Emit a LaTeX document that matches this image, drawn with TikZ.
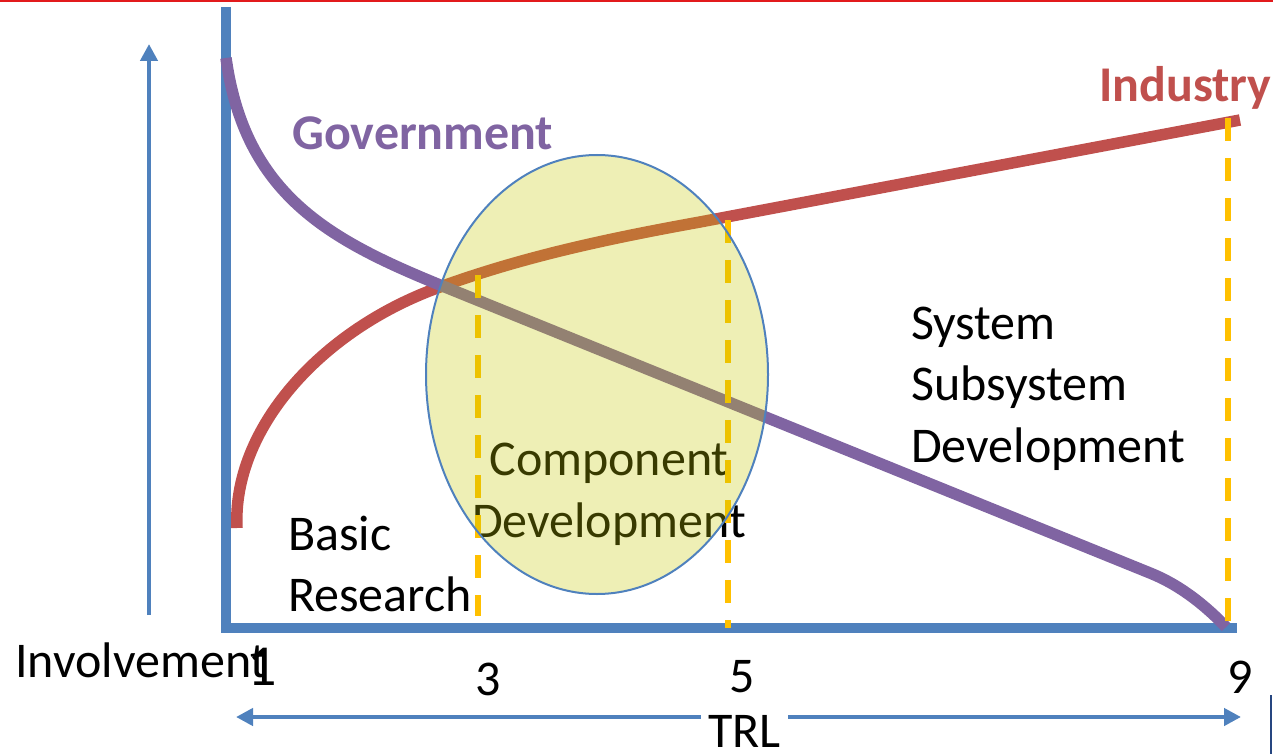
\documentclass[tikz,border=0pt]{standalone}
\usepackage{fontspec}
\setmainfont{Carlito}
\usetikzlibrary{arrows.meta}
\definecolor{axisblue}{RGB}{79,129,189}
\definecolor{govpurple}{RGB}{128,100,162}
\definecolor{indred}{RGB}{192,80,77}
\definecolor{trlyellow}{RGB}{255,192,0}
\definecolor{blobfill}{RGB}{196,200,0}
\definecolor{topred}{RGB}{226,26,28}
\definecolor{edgenavy}{RGB}{38,70,128}

\begin{document}
\begin{tikzpicture}[x=1pt,y=-1pt,
  lbl/.style={font=\fontsize{50}{60}\selectfont, inner sep=0pt, anchor=base west},
  num/.style={font=\fontsize{50}{60}\selectfont, inner sep=0pt, anchor=base},
  axisline/.style={draw=axisblue, line width=10pt, line join=miter},
  arr/.style={draw=axisblue, line width=4.5pt, -{Triangle[length=17pt,width=17pt]}},
  curve/.style={line width=11.5pt, line cap=butt},
  dashline/.style={draw=trlyellow, line width=6pt, dash pattern=on 23pt off 17pt},
]
\useasboundingbox (0,0) rectangle (1273,754);

% rule along the top edge
\fill[topred] (0,0) rectangle (1273,2.5);

% axes
\coordinate (ytop) at (226,7);
\coordinate (origin) at (226,628);
\coordinate (xend) at (1237,628);
\draw[axisline] (ytop) -- (origin) -- (xend);

% involvement arrow
\coordinate (invBot) at (149,615);
\coordinate (invTop) at (149,44);
\draw[arr] (invBot) -- (invTop);

% TRL double arrow
\node[font=\fontsize{50}{60}\selectfont, inner ysep=0pt, inner xsep=7.5pt, anchor=base] (trl) at (744.5,747) {TRL};
\coordinate (trlL) at (236,717);
\coordinate (trlR) at (1241,717);
\draw[arr] (trl.west |- trlL) -- (trlL);
\draw[arr] (trl.east |- trlR) -- (trlR);

% industry curve
\draw[curve, indred] (237,528) .. controls (232,430) and (320,330) .. (440,287)
  .. controls (520,258) and (600,240) .. (700,222) -- (1240,120);

% government curve
\draw[curve, govpurple] (226,58) .. controls (245,195) and (330,240) .. (440,285)
  -- (1150,573) .. controls (1175,583) and (1200,600) .. (1226,627);

% curve labels
\node[lbl, font=\fontsize{50}{60}\selectfont\bfseries, text=govpurple] (gov) at (292,150) {Government};
\node[lbl, font=\fontsize{50}{60}\selectfont\bfseries, text=indred] (ind) at (1099,102) {Industry};

% phase labels
\node[lbl] (basic) at (288,550) {Basic};
\node[lbl] (research) at (288,611) {Research};
\node[num] (comp) at (609,475) {Component};
\node[num] (compdev) at (609,537) {Development};
\node[lbl] (sys) at (911,339) {System};
\node[lbl] (subsys) at (911,400) {Subsystem};
\node[lbl] (sysdev) at (911,462) {Development};

% TRL markers
\draw[dashline] (478,275) -- (478,616);
\draw[dashline] (728,220) -- (728,628);
\draw[dashline] (1228,118) -- (1228,624);

% component development region
\fill[blobfill, opacity=0.29] (597,374.5) ellipse [x radius=171, y radius=219.5];
\draw[axisblue, line width=2pt] (597,374.5) ellipse [x radius=171, y radius=219.5];

% axis labels
\node[lbl] (inv) at (15,677) {Involvement};
\node[num, font=\fontsize{58}{60}\selectfont] (t1) at (262,685) {1};
\node[num] (t3) at (488,695) {3};
\node[num] (t5) at (742,692) {5};
\node[num] (t9) at (1240,693) {9};

% edge mark at lower right
\coordinate (markTop) at (1271,695);
\coordinate (markBot) at (1271,754);
\draw[edgenavy, line width=2pt] (markTop) -- (markBot);
\end{tikzpicture}
\end{document}
